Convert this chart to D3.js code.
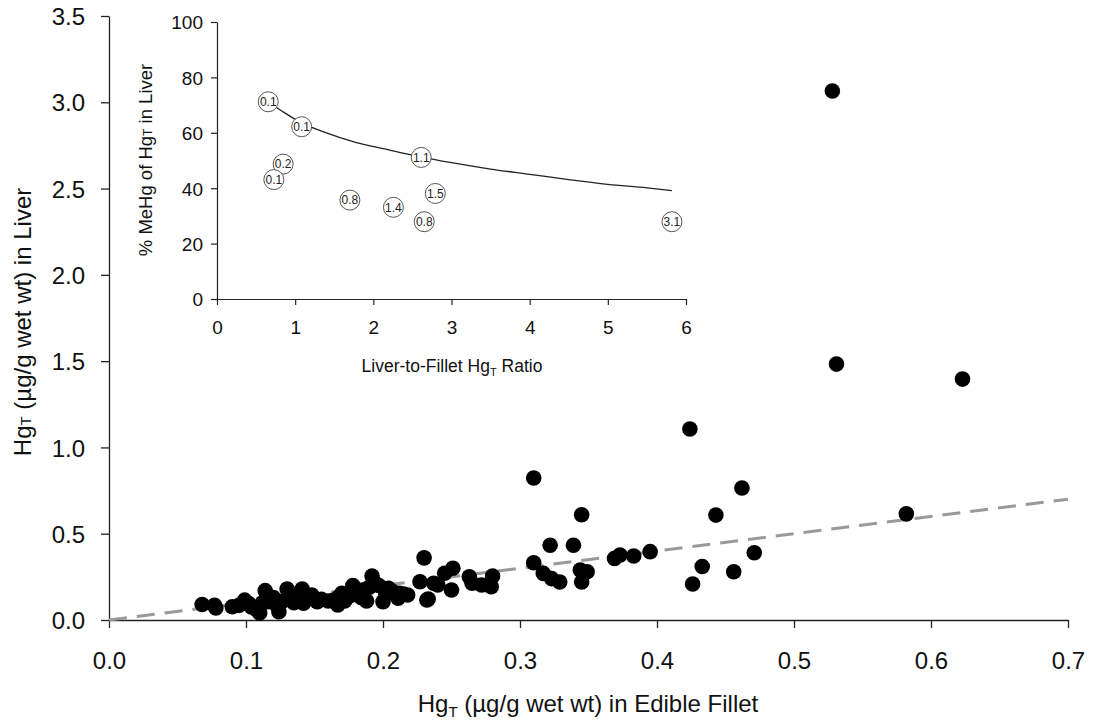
<!DOCTYPE html>
<html><head><meta charset="utf-8">
<script src="https://cdn.jsdelivr.net/npm/d3@7"></script>
<style>
body{margin:0;background:#fff;}
svg{display:block;font-family:Arial,"Liberation Sans",sans-serif;}
</style></head><body>
<svg id="c" width="1095" height="727"></svg>
<script>
// Main scatter: fillet HgT (x) vs liver HgT (y)
const filletHg = [0.068,0.078,0.077,0.090,0.095,0.099,0.102,0.104,0.108,0.110,0.112,0.114,0.116,0.120,0.122,0.124,0.127,0.130,0.132,0.135,0.138,0.141,0.142,0.146,0.148,0.152,0.155,0.160,0.164,0.167,0.168,0.170,0.172,0.176,0.178,0.180,0.182,0.184,0.186,0.188,0.190,0.192,0.194,0.197,0.200,0.202,0.204,0.207,0.211,0.212,0.215,0.218,0.227,0.230,0.232,0.233,0.237,0.240,0.245,0.251,0.250,0.263,0.265,0.272,0.279,0.280,0.310,0.322,0.339,0.345,0.317,0.323,0.329,0.344,0.349,0.345,0.369,0.373,0.383,0.395,0.426,0.433,0.310,0.424,0.443,0.462,0.456,0.471,0.528,0.531,0.623,0.582];
const liverHg  = [0.090,0.070,0.085,0.077,0.085,0.115,0.095,0.075,0.058,0.040,0.100,0.170,0.106,0.130,0.090,0.048,0.110,0.180,0.120,0.100,0.150,0.180,0.097,0.130,0.145,0.106,0.120,0.110,0.116,0.087,0.135,0.155,0.110,0.140,0.200,0.160,0.145,0.130,0.175,0.110,0.190,0.255,0.215,0.200,0.106,0.150,0.184,0.165,0.126,0.155,0.150,0.145,0.222,0.360,0.116,0.122,0.213,0.203,0.271,0.300,0.174,0.251,0.213,0.203,0.193,0.255,0.332,0.433,0.433,0.610,0.270,0.240,0.220,0.290,0.280,0.220,0.357,0.377,0.371,0.396,0.209,0.310,0.823,1.107,0.608,0.765,0.280,0.390,3.065,1.483,1.396,0.615];
const refLine = [0, 0.7]; // 1:1 line endpoints
const mainXTicks = [0,0.1,0.2,0.3,0.4,0.5,0.6,0.7];
const mainYTicks = [0,0.5,1.0,1.5,2.0,2.5,3.0,3.5];

// Inset: liver-to-fillet ratio vs % MeHg, labels = liver HgT
const ratio   = [0.656,1.083,0.846,0.727,1.700,2.257,2.613,2.793,2.651,5.820];
const pctMeHg = [71.2,62.2,48.7,43.1,35.7,33.1,51.1,38.1,27.9,27.9];
const ptLabel = ["0.1","0.1","0.2","0.1","0.8","1.4","1.1","1.5","0.8","3.1"];
const curveX = [0.656,0.8,1.08,1.4,1.72,2.2,2.6,3.0,3.5,4.0,4.5,5.0,5.5,5.82];
const curveY = [71.0,68.4,63.6,60.0,57.0,53.8,51.3,49.2,46.9,45.0,43.1,41.4,40.1,39.1];
const insetXTicks = [0,1,2,3,4,5,6];
const insetYTicks = [0,20,40,60,80,100];

const svg = d3.select("#c");
const FONT = "Arial, 'Liberation Sans', sans-serif";

// ---- main chart ----
const x = d3.scaleLinear().domain([0,0.7]).range([109,1068]);
const y = d3.scaleLinear().domain([0,3.5]).range([620,16]);

const xAxis = svg.append("g").attr("transform","translate(0,620)")
  .call(d3.axisBottom(x).tickValues(mainXTicks).tickFormat(d3.format(".1f")).tickSize(8).tickSizeOuter(0));
const yAxis = svg.append("g").attr("transform","translate(109,0)")
  .call(d3.axisLeft(y).tickValues(mainYTicks).tickFormat(d3.format(".1f")).tickSize(8).tickSizeOuter(0));
[xAxis,yAxis].forEach(g=>{
  g.select(".domain").attr("stroke","#222").attr("stroke-width",1.3);
  g.selectAll(".tick line").attr("stroke","#222").attr("stroke-width",1.3);
  g.selectAll(".tick text").attr("font-size",24).attr("fill","#111").attr("font-family",FONT);
});
xAxis.selectAll(".tick text").attr("y",49).attr("dy",0);
yAxis.selectAll(".tick text").attr("x",-24).attr("dy","0.36em");

svg.append("line")
  .attr("x1",x(refLine[0])).attr("y1",y(refLine[0]))
  .attr("x2",x(refLine[1])).attr("y2",y(refLine[1]))
  .attr("stroke","#999").attr("stroke-width",3).attr("stroke-dasharray","18,10");

svg.append("g").selectAll("circle").data(filletHg).join("circle")
  .attr("cx",(d)=>x(d)).attr("cy",(d,i)=>y(liverHg[i])).attr("r",7.8).attr("fill","#000");

// titles
const xt = svg.append("text").attr("x",588).attr("y",712).attr("text-anchor","middle").attr("font-size",24).attr("fill","#111");
xt.append("tspan").text("Hg");
xt.append("tspan").text("T").attr("font-size",15).attr("dy",5);
xt.append("tspan").text(" (µg/g wet wt) in Edible Fillet").attr("dy",-5);

const yt = svg.append("text").attr("transform","translate(31,322) rotate(-90)").attr("text-anchor","middle").attr("font-size",24).attr("fill","#111");
yt.append("tspan").text("Hg");
yt.append("tspan").text("T").attr("font-size",15);
yt.append("tspan").text(" (µg/g wet wt) in Liver");

// ---- inset ----
const ix = d3.scaleLinear().domain([0,6]).range([217,686]);
const iy = d3.scaleLinear().domain([0,100]).range([299,22]);
const ixA = svg.append("g").attr("transform","translate(0,299)")
  .call(d3.axisBottom(ix).tickValues(insetXTicks).tickFormat(d3.format("d")).tickSize(6).tickSizeOuter(0));
const iyA = svg.append("g").attr("transform","translate(217,0)")
  .call(d3.axisLeft(iy).tickValues(insetYTicks).tickFormat(d3.format("d")).tickSize(6).tickSizeOuter(0));
[ixA,iyA].forEach(g=>{
  g.select(".domain").attr("stroke","#222").attr("stroke-width",1.2);
  g.selectAll(".tick line").attr("stroke","#222").attr("stroke-width",1.2);
  g.selectAll(".tick text").attr("font-size",19).attr("fill","#111").attr("font-family",FONT);
});
ixA.selectAll(".tick text").attr("y",35).attr("dy",0);
iyA.selectAll(".tick text").attr("x",-14).attr("dy","0.36em");

svg.append("path")
  .datum(curveX.map((d,i)=>[d,curveY[i]]))
  .attr("d",d3.line().x(d=>ix(d[0])).y(d=>iy(d[1])).curve(d3.curveMonotoneX))
  .attr("fill","none").attr("stroke","#222").attr("stroke-width",1.3);

const pg = svg.append("g").selectAll("g").data(ratio).join("g")
  .attr("transform",(d,i)=>`translate(${ix(d)},${iy(pctMeHg[i])})`);
pg.append("circle").attr("r",10).attr("fill","#fff").attr("stroke","#555").attr("stroke-width",1);
pg.append("text").text((d,i)=>ptLabel[i]).attr("text-anchor","middle").attr("dy","0.36em")
  .attr("font-size",12).attr("fill","#222");

const ixt = svg.append("text").attr("x",452).attr("y",372).attr("text-anchor","middle").attr("font-size",17.5).attr("fill","#111");
ixt.append("tspan").text("Liver-to-Fillet Hg");
ixt.append("tspan").text("T").attr("font-size",11).attr("dy",4);
ixt.append("tspan").text(" Ratio").attr("dy",-4);

const iyt = svg.append("text").attr("transform","translate(152,160) rotate(-90)").attr("text-anchor","middle").attr("font-size",18.5).attr("fill","#111");
iyt.append("tspan").text("% MeHg of Hg");
iyt.append("tspan").text("T").attr("font-size",12);
iyt.append("tspan").text(" in Liver");
</script></body></html>
